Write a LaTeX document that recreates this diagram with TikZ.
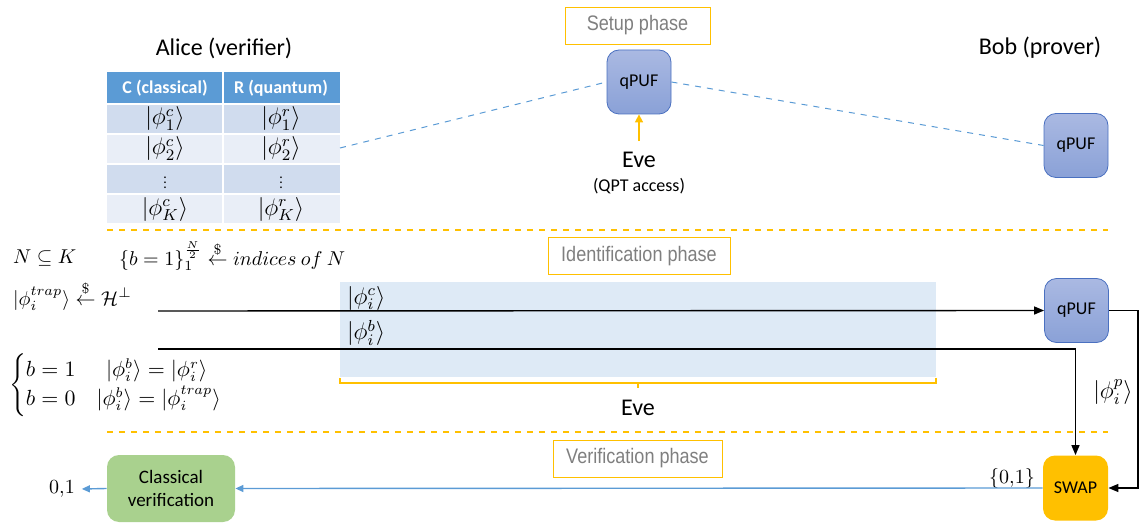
\documentclass[tikz,border=0pt]{standalone}
\usepackage{amsmath,amssymb}
\usepackage{fontspec}
\setmainfont{Carlito}
\newfontfamily\phasefont[FakeStretch=0.86]{Liberation Sans}
\usetikzlibrary{arrows.meta}

\definecolor{hdrblue}{HTML}{5B9BD5}
\definecolor{rowdark}{HTML}{D0DCEE}
\definecolor{rowlight}{HTML}{E9EEF7}
\definecolor{phaseyel}{HTML}{FFC000}
\definecolor{pufedge}{HTML}{4A70C0}
\definecolor{puftop}{HTML}{AAB9E2}
\definecolor{pufbot}{HTML}{8AA1D7}
\definecolor{chanblue}{HTML}{DEEAF6}
\definecolor{greenbox}{HTML}{A9D18E}
\definecolor{phasegray}{HTML}{7F7F7F}

\begin{document}
\begin{tikzpicture}[x=0.5pt, y=-0.5pt,
    puf/.style={draw=pufedge, rounded corners=6pt, top color=puftop, bottom color=pufbot,
        minimum width=32pt, minimum height=32pt, font=\fontsize{9}{10}\selectfont},
    phase/.style={draw=phaseyel, text=phasegray, minimum height=18.5pt,
        font=\phasefont\fontsize{10.5}{12}\selectfont},
    hdr/.style={text=white, font=\bfseries\fontsize{9}{10}\selectfont},
    cell/.style={font=\fontsize{11.5}{13}\selectfont},
    eq/.style={anchor=west, font=\fontsize{9.8}{11.5}\selectfont},
    big/.style={font=\fontsize{12}{14}\selectfont},
    small/.style={font=\fontsize{9}{11}\selectfont},
    wire/.style={line width=0.7pt, -{Triangle[length=5pt,width=4pt]}},
    bluewire/.style={draw=hdrblue, line width=0.7pt, -{Triangle[length=4pt,width=3.5pt]}}]
    \useasboundingbox (0,0) rectangle (1147,524);

    % setup phase
    \node[big] (alice) at (224,48) {Alice (verifier)};
    \node[big] (bob) at (1040,48) {Bob (prover)};
    \node[phase, minimum width=72.5pt] (setup) at (637.5,25.5) {Setup phase};
    \fill[hdrblue] (107,72) rectangle (340,104);
    \fill[rowdark] (107,104) rectangle (340,134);
    \fill[rowlight] (107,134) rectangle (340,164);
    \fill[rowdark] (107,164) rectangle (340,194);
    \fill[rowlight] (107,194) rectangle (340,223);
    \foreach \y in {104,134,164,194}
        \draw[white, line width=1pt] (107,\y) -- (340,\y);
    \draw[white, line width=1pt] (223,72) -- (223,223);
    \node[hdr] (colC) at (165,88) {C (classical)};
    \node[hdr] (colR) at (281,88) {R (quantum)};
    \node[cell] (c1) at (165,119) {$|\phi^c_1\rangle$};
    \node[cell] (r1) at (281,119) {$|\phi^r_1\rangle$};
    \node[cell] (c2) at (165,149) {$|\phi^c_2\rangle$};
    \node[cell] (r2) at (281,149) {$|\phi^r_2\rangle$};
    \node[cell] (c3) at (165,179) {\scalebox{0.6}{$\vdots$}};
    \node[cell] (r3) at (281,179) {\scalebox{0.6}{$\vdots$}};
    \node[cell] (cK) at (165,209) {$|\phi^c_K\rangle$};
    \node[cell] (rK) at (281,209) {$|\phi^r_K\rangle$};
    \coordinate (tabR) at (340,148);
    \node[puf] (pufA) at (639,82) {qPUF};
    \node[puf] (pufB) at (1076,145.5) {qPUF};
    \node[big] (eve) at (639,160) {Eve};
    \node[small] (qpt) at (639,186) {(QPT access)};
    \draw[phaseyel, line width=0.8pt, -{Triangle[length=4pt,width=4pt]}] (eve.north) ++(0,-4) -- (pufA.south);
    \draw[hdrblue, dashed, line width=0.5pt] (tabR) -- (pufA.west);
    \draw[hdrblue, dashed, line width=0.5pt] (pufA.east) -- (pufB.west);
    \draw[phaseyel, dashed, line width=0.6pt] (107,230) -- (1108,230);

    % identification phase
    \node[phase, minimum width=91pt] (ident) at (639,256) {Identification phase};
    \node[eq] (subset) at (6,258) {$N \subseteq K$};
    \node[eq] (pick) at (112,256) {$\{b=1\}_1^{\frac{N}{2}} \stackrel{\$}{\leftarrow} indices\ of\ N$};
    \node[eq] (trap) at (6,296) {$|\phi_i^{trap}\rangle \stackrel{\$}{\leftarrow} \mathcal{H}^{\perp}$};
    \node[eq, font=\fontsize{10.5}{12}\selectfont] (cases) at (2,385) {$\begin{cases} b=1 \quad\ \ |\phi_i^b\rangle = |\phi_i^r\rangle\\ b=0 \quad |\phi_i^b\rangle=|\phi_i^{trap}\rangle\end{cases}$};
    \node[fill=chanblue, anchor=north west, inner sep=0, minimum width=298pt, minimum height=47.5pt] (chan) at (340,282) {};
    \node[cell, anchor=west] (lblC) at (340,298) {$|\phi_i^c\rangle$};
    \node[cell, anchor=west] (lblB) at (340,333) {$|\phi_i^b\rangle$};
    \draw[phaseyel, line width=0.7pt] (340,378) -- (340,383) -- (936,383) -- (936,378);
    \draw[phaseyel, line width=0.7pt] (638,383) -- (638,388);
    \node[big] (eve2) at (638,408) {Eve};
    \node[puf] (pufC) at (1076.5,310.5) {qPUF};
    \node[phaseyel, fill=phaseyel, rounded corners=6pt, minimum size=32.5pt, text=black,
        font=\fontsize{9}{10}\selectfont] (swap) at (1075.5,488) {SWAP};
    \coordinate (srcC) at (158,311);
    \coordinate (srcB) at (158,349);
    \draw[wire] (srcC) -- (pufC.west);
    \draw[wire] (srcB) -- (srcB -| swap) -- (swap.north);
    \draw[wire] (pufC.east) -- ++(29,0) |- (swap.east);
    \node[cell] (lblP) at (1113,392) {$|\phi_i^p\rangle$};
    \draw[phaseyel, dashed, line width=0.6pt] (107,432) -- (1108,432);

    % verification phase
    \node[phase, minimum width=84.5pt] (verif) at (637.5,458.5) {Verification phase};
    \node[cell, font=\fontsize{10}{12}\selectfont] (bits) at (1012,478) {$\{0{,}1\}$};
    \node[fill=greenbox, rounded corners=6pt, minimum width=64pt, minimum height=33.5pt,
        align=center, font=\fontsize{9.5}{11.5}\selectfont] (cver) at (171,488.5) {Classical\\verification};
    \node[cell, font=\fontsize{10}{12}\selectfont] (out) at (62,489) {$0{,}1$};
    \draw[bluewire] (swap.west) -- (cver.east);
    \draw[bluewire] (cver.west) -- (out.east);
\end{tikzpicture}
\end{document}
